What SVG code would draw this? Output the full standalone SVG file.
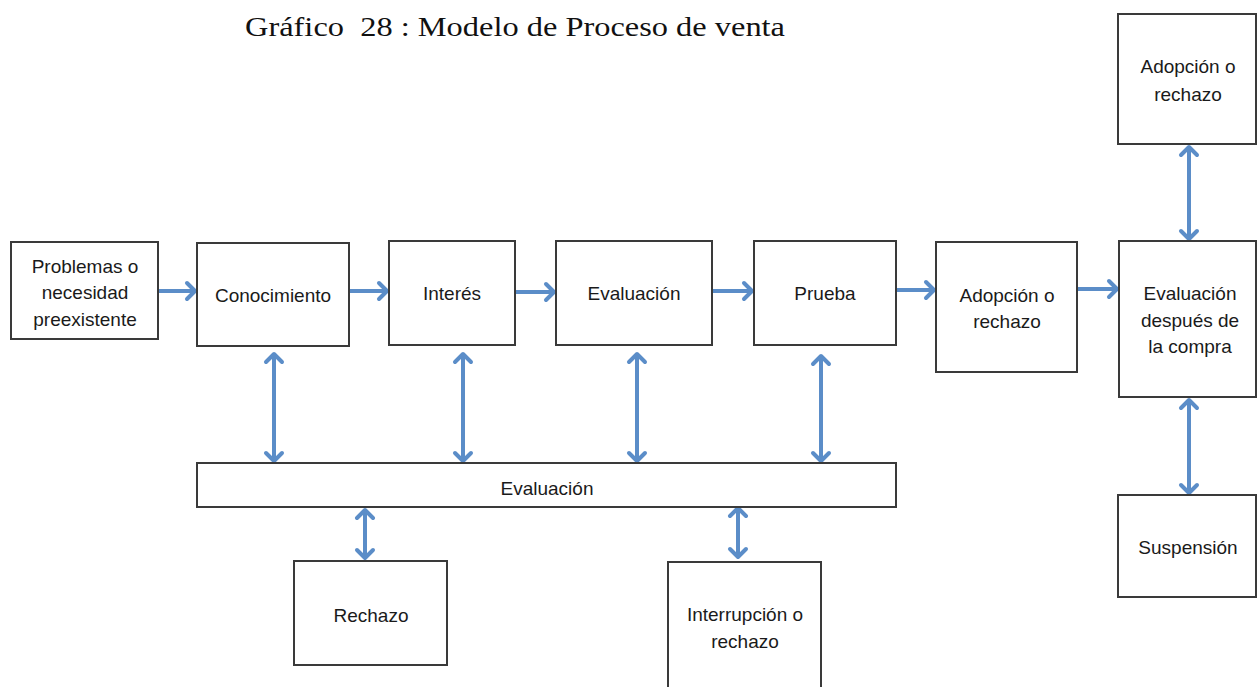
<svg xmlns="http://www.w3.org/2000/svg" width="1259" height="687" viewBox="0 0 1259 687">
<style>
.box{fill:#fff;stroke:#3a3a3a;stroke-width:2}
.t{font-family:"Liberation Sans",Arial,sans-serif;font-size:19px;fill:#1a1a1a;text-anchor:middle}
.title{font-family:"Liberation Serif","DejaVu Serif",serif;font-size:27px;fill:#111}
.c{stroke:#5b8dc8;stroke-width:4;fill:none}
.one{marker-end:url(#ah)}
.two{marker-start:url(#ah);marker-end:url(#ah)}
</style>
<defs>
<marker id="ah" markerUnits="userSpaceOnUse" viewBox="-12 -10 14 20" refX="0" refY="0" markerWidth="14" markerHeight="20" orient="auto-start-reverse" overflow="visible">
<path d="M-8,-8 L0,0 L-8,8" fill="none" stroke="#5b8dc8" stroke-width="4" stroke-linecap="round" stroke-linejoin="round"/>
</marker>
</defs>
<rect width="1259" height="687" fill="#fff"/>
<text class="title" x="245" y="36" textLength="540" lengthAdjust="spacingAndGlyphs">Gráfico&#160; 28 : Modelo de Proceso de venta</text>

<g id="connectors">
<line class="c one" x1="158" y1="291" x2="195" y2="291"/>
<line class="c one" x1="349" y1="291" x2="387" y2="291"/>
<line class="c one" x1="515" y1="292" x2="554" y2="292"/>
<line class="c one" x1="712" y1="291" x2="752" y2="291"/>
<line class="c one" x1="896" y1="290" x2="934" y2="290"/>
<line class="c one" x1="1077" y1="289" x2="1117" y2="289"/>
<line class="c two" x1="274" y1="354" x2="274" y2="461"/>
<line class="c two" x1="463" y1="354" x2="463" y2="461"/>
<line class="c two" x1="637" y1="354" x2="637" y2="461"/>
<line class="c two" x1="821" y1="356" x2="821" y2="461"/>
<line class="c two" x1="365" y1="510" x2="365" y2="558"/>
<line class="c two" x1="738" y1="508" x2="738" y2="557"/>
<line class="c two" x1="1189" y1="147" x2="1189" y2="239"/>
<line class="c two" x1="1189" y1="400" x2="1189" y2="493"/>
</g>

<g id="n-problemas"><rect class="box" x="11" y="242" width="147" height="97"/>
<text class="t" x="85" y="273">Problemas o</text><text class="t" x="85" y="299">necesidad</text><text class="t" x="85" y="326">preexistente</text></g>
<g id="n-conocimiento"><rect class="box" x="197" y="243" width="152" height="103"/>
<text class="t" x="273" y="302">Conocimiento</text></g>
<g id="n-interes"><rect class="box" x="389" y="241" width="126" height="104"/>
<text class="t" x="452" y="300">Interés</text></g>
<g id="n-evaluacion"><rect class="box" x="556" y="241" width="156" height="104"/>
<text class="t" x="634" y="300">Evaluación</text></g>
<g id="n-prueba"><rect class="box" x="754" y="241" width="142" height="104"/>
<text class="t" x="825" y="300">Prueba</text></g>
<g id="n-adopcion"><rect class="box" x="936" y="242" width="141" height="130"/>
<text class="t" x="1007" y="302">Adopción o</text><text class="t" x="1007" y="328">rechazo</text></g>
<g id="n-despues"><rect class="box" x="1119" y="241" width="137" height="156"/>
<text class="t" x="1190" y="300">Evaluación</text><text class="t" x="1190" y="327">después de</text><text class="t" x="1190" y="353">la compra</text></g>
<g id="n-adopcion-top"><rect class="box" x="1118" y="14" width="138" height="130"/>
<text class="t" x="1188" y="73">Adopción o</text><text class="t" x="1188" y="101">rechazo</text></g>
<g id="n-suspension"><rect class="box" x="1118" y="495" width="138" height="102"/>
<text class="t" x="1188" y="554">Suspensión</text></g>
<g id="n-evaluacion-bar"><rect class="box" x="197" y="463" width="699" height="44"/>
<text class="t" x="547" y="495">Evaluación</text></g>
<g id="n-rechazo"><rect class="box" x="294" y="561" width="153" height="104"/>
<text class="t" x="371" y="622">Rechazo</text></g>
<g id="n-interrupcion"><rect class="box" x="668" y="562" width="153" height="140"/>
<text class="t" x="745" y="621">Interrupción o</text><text class="t" x="745" y="648">rechazo</text></g>
</svg>
